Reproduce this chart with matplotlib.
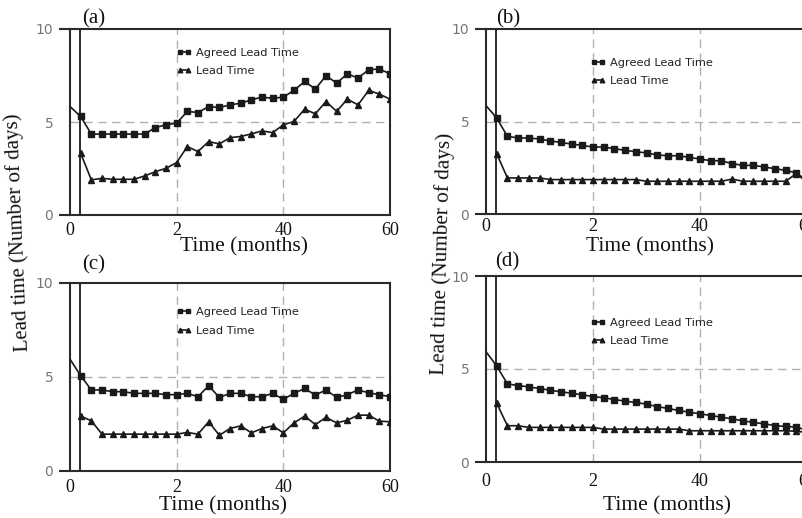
import numpy as np
import matplotlib
matplotlib.use("Agg")
import matplotlib.pyplot as plt

# ---------------- data ----------------
time_agreed = list(range(0, 61, 2))   # months
time_lead = list(range(2, 61, 2))

a_agreed = [5.83, 5.30, 4.35, 4.35, 4.35, 4.35, 4.35, 4.35, 4.70, 4.85, 4.94,
            5.57, 5.51, 5.83, 5.78, 5.92, 6.01, 6.19, 6.34, 6.27, 6.34,
            6.70, 7.18, 6.77, 7.49, 7.09, 7.59, 7.36, 7.81, 7.85, 7.59]
a_lead = [3.32, 1.89, 1.97, 1.92, 1.92, 1.92, 2.10, 2.33, 2.51, 2.82,
          3.68, 3.41, 3.95, 3.82, 4.16, 4.22, 4.36, 4.52, 4.43, 4.85,
          5.03, 5.69, 5.44, 6.10, 5.57, 6.23, 5.92, 6.70, 6.50, 6.23]

b_agreed = [5.86, 5.19, 4.20, 4.11, 4.11, 4.05, 3.95, 3.87, 3.78, 3.71, 3.62,
            3.62, 3.53, 3.44, 3.37, 3.30, 3.19, 3.15, 3.15, 3.06, 2.97,
            2.88, 2.88, 2.72, 2.63, 2.63, 2.54, 2.45, 2.36, 2.22, 1.80]
b_lead = [3.26, 1.95, 1.95, 1.95, 1.95, 1.86, 1.86, 1.86, 1.86, 1.86,
          1.86, 1.86, 1.86, 1.86, 1.77, 1.77, 1.77, 1.77, 1.77, 1.77,
          1.77, 1.77, 1.89, 1.77, 1.77, 1.77, 1.77, 1.77, 2.18, 1.72]

c_agreed = [5.95, 5.07, 4.31, 4.31, 4.22, 4.22, 4.13, 4.13, 4.13, 4.06, 4.06,
            4.13, 3.95, 4.54, 3.91, 4.13, 4.13, 3.95, 3.95, 4.13, 3.81,
            4.13, 4.39, 4.04, 4.31, 3.91, 4.06, 4.31, 4.16, 4.06, 3.95]
c_lead = [2.92, 2.67, 1.96, 1.96, 1.96, 1.96, 1.96, 1.96, 1.96, 1.96,
          2.05, 1.96, 2.62, 1.90, 2.26, 2.40, 2.03, 2.26, 2.40, 2.03,
          2.56, 2.92, 2.47, 2.85, 2.56, 2.70, 2.97, 2.97, 2.65, 2.62]

d_agreed = [5.93, 5.16, 4.20, 4.11, 4.04, 3.95, 3.86, 3.77, 3.70, 3.61, 3.52,
            3.45, 3.36, 3.27, 3.20, 3.11, 2.98, 2.88, 2.77, 2.68, 2.59,
            2.50, 2.41, 2.32, 2.21, 2.13, 2.05, 1.96, 1.91, 1.88, 1.70]
d_lead = [3.16, 1.95, 1.95, 1.86, 1.86, 1.86, 1.86, 1.86, 1.86, 1.86,
          1.77, 1.77, 1.77, 1.77, 1.77, 1.77, 1.77, 1.77, 1.68, 1.68,
          1.68, 1.68, 1.68, 1.68, 1.68, 1.68, 1.68, 1.68, 1.65, 1.59]

x_ticks = [0, 20, 40, 60]
x_tick_labels = ["0", "2", "40", "60"]
y_ticks = [0, 5, 10]
y_tick_labels = ["0", "5", "10"]
series_names = ["Agreed Lead Time", "Lead Time"]
panel_names = ["(a)", "(b)", "(c)", "(d)"]
x_label = "Time (months)"
y_label = "Lead time (Number of days)"

# ---------------- layout ----------------
W, H = 802, 518
fig = plt.figure(figsize=(W / 100, H / 100), dpi=100)
fig.patch.set_facecolor("white")

def rect(l, r, t, b):
    return [l / W, (H - b) / H, (r - l) / W, (b - t) / H]

panels = [
    dict(rect=rect(70, 390, 29, 215), agreed=a_agreed, lead=a_lead,
         leg=(0.334, 0.90), xpad=4.8, xl=(244, 247), pl=(94, 19)),
    dict(rect=rect(486, 807, 29, 214), agreed=b_agreed, lead=b_lead,
         leg=(0.327, 0.845), xpad=2.6, xl=(650, 247), pl=(508, 19)),
    dict(rect=rect(70, 390, 283, 471), agreed=c_agreed, lead=c_lead,
         leg=(0.334, 0.87), xpad=5.8, xl=(223, 506), pl=(94, 265)),
    dict(rect=rect(486, 807, 276, 462), agreed=d_agreed, lead=d_lead,
         leg=(0.327, 0.775), xpad=8.0, xl=(667, 506), pl=(507, 262)),
]

line_col = "#1a1a1a"
spine_col = "#2a2a2a"
serif = ["Liberation Serif", "DejaVu Serif"]

for i, p in enumerate(panels):
    ax = fig.add_axes(p["rect"])
    ax.set_xlim(0, 60)
    ax.set_ylim(0, 10)
    ax.set_facecolor("white")

    # dashed grid
    for gx in (20, 40):
        ax.axvline(gx, color="#b0b0b0", lw=1.0, ls=(0, (6, 4)), zorder=1)
    ax.axhline(5, color="#b0b0b0", lw=1.0, ls=(0, (6, 4)), zorder=1)

    # vertical marker line near start (present in the original)
    ax.axvline(1.9, color=spine_col, lw=1.4, zorder=2)

    l1, = ax.plot(time_agreed, p["agreed"], color=line_col, lw=1.2,
                  marker="s", ms=3.9, markevery=slice(1, None), zorder=3,
                  label=series_names[0])
    l2, = ax.plot(time_lead, p["lead"], color=line_col, lw=1.2,
                  marker="^", ms=4.4, zorder=3, label=series_names[1])

    leg = ax.legend(handles=[l1, l2], loc="upper left",
                    bbox_to_anchor=p["leg"], frameon=False, borderpad=0,
                    borderaxespad=0, handlelength=1.25, handletextpad=0.4,
                    labelspacing=0.72, numpoints=2, markerscale=0.75,
                    prop=dict(family="DejaVu Sans", size=8.2))
    for t in leg.get_texts():
        t.set_color("#222222")

    for s in ax.spines.values():
        s.set_color(spine_col)
        s.set_linewidth(1.5)

    # spine extensions to the left at top and bottom
    for yy in (0, 1):
        ax.plot([-0.035, 0], [yy, yy], transform=ax.transAxes, color=spine_col,
                lw=1.5, clip_on=False, solid_capstyle="butt")

    ax.set_xticks(x_ticks)
    ax.set_xticklabels(x_tick_labels, fontfamily=serif, fontsize=13,
                       color="#111111")
    ax.set_yticks(y_ticks)
    ax.set_yticklabels(y_tick_labels, fontfamily="DejaVu Sans", fontsize=10,
                       color="#777777")
    ax.tick_params(axis="x", length=0, pad=p["xpad"])
    ax.tick_params(axis="y", length=0, pad=12)

    fig.text(p["xl"][0] / W, 1 - p["xl"][1] / H, x_label, fontfamily=serif,
             fontsize=15.5, ha="center", va="center", color="#111111")
    fig.text(p["pl"][0] / W, 1 - p["pl"][1] / H, panel_names[i],
             fontfamily=serif, fontsize=15, ha="center", va="center",
             color="#111111")

fig.text(18 / W, 1 - 232 / H, y_label, fontfamily=serif, fontsize=15,
         rotation=92.5, ha="center", va="center", rotation_mode="anchor",
         color="#111111")
fig.text(442 / W, 1 - 254 / H, y_label, fontfamily=serif, fontsize=15.3,
         rotation=88.5, ha="center", va="center", rotation_mode="anchor",
         color="#111111")

fig.savefig("out.png", dpi=100, facecolor="white")
